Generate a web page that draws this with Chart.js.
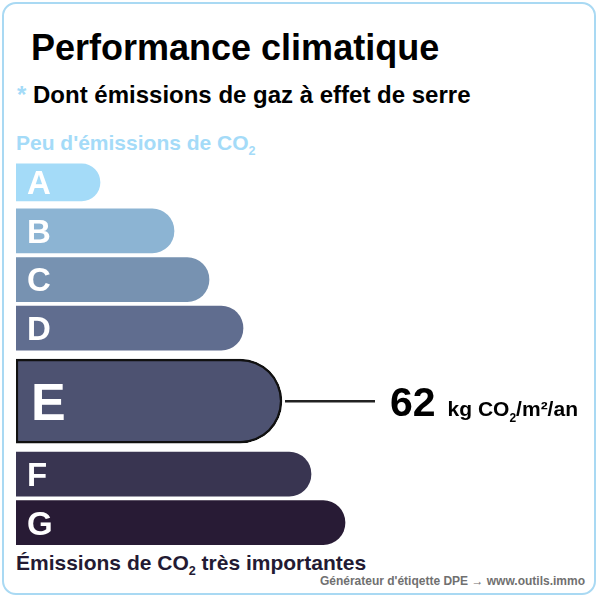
<!DOCTYPE html>
<html lang="fr">
<head>
<meta charset="utf-8">
<title>Performance climatique</title>
<script src="https://cdn.jsdelivr.net/npm/chart.js@4"></script>
<style>
  body { margin: 0; width: 600px; height: 600px; position: relative; overflow: hidden; background: #fff;
         font-family: "Liberation Sans", Arial, Helvetica, sans-serif; font-weight: bold; }
  .frame { position: absolute; left: 2px; top: 2px; width: 594px; height: 593px; box-sizing: border-box;
           border: 2px solid #a9d9f3; border-radius: 14px; }
  .txt { position: absolute; white-space: nowrap; line-height: 1; }
  #title { left: 31px; top: 30px; font-size: 36px; color: #000; }
  #sub { left: 17px; top: 83px; font-size: 24px; color: #000; }
  #sub .star { color: #a4dbf8; }
  #low { left: 16px; top: 132px; font-size: 21px; color: #a4dbf8; }
  #high { left: 16px; top: 552px; font-size: 21px; color: #231a33; }
  #credit { right: 15px; top: 575px; font-size: 12px; color: #707070; }
  sub { font-size: 0.6em; line-height: 0; vertical-align: -0.4em; }
  #chart { position: absolute; left: 0; top: 0; }
</style>
</head>
<body>
<div class="frame"></div>
<div class="txt" id="title">Performance climatique</div>
<div class="txt" id="sub"><span class="star">*</span> Dont émissions de gaz à effet de serre</div>
<div class="txt" id="low">Peu d'émissions de CO<sub>2</sub></div>
<div class="txt" id="high">Émissions de CO<sub>2</sub> très importantes</div>
<div class="txt" id="credit">Générateur d'étiqette DPE → www.outils.immo</div>
<canvas id="chart" width="600" height="600"></canvas>

<script>
// DPE classes and the length of each arrow bar
const classes = ['A', 'B', 'C', 'D', 'E', 'F', 'G'];
const barLengths = [84, 158, 193, 227, 266, 295, 329];
const rating = 'E';
const emission = 62;
const unit = ['kg CO', '2', '/m²/an'];

const classColors = ['#a4dbf8', '#8cb4d3', '#7792b1', '#606d8f', '#4d5271', '#393551', '#281b35'];

const ratedIdx = classes.indexOf(rating);
// the rated class gets one extra slot of room, half above and half below
const rank = i => i + (i > ratedIdx ? 1 : i === ratedIdx ? 0.5 : 0);

const labelPlugin = {
  id: 'dpeLabels',
  afterDatasetsDraw(chart) {
    const ctx = chart.ctx;
    ctx.save();
    chart.data.datasets.forEach((ds, i) => {
      const bar = chart.getDatasetMeta(i).data[0];
      const isRated = classes[i] === rating;
      const size = isRated ? 52 : 33;
      ctx.font = `bold ${size}px "Liberation Sans", Arial, sans-serif`;
      ctx.fillStyle = '#fff';
      ctx.textBaseline = 'alphabetic';
      ctx.fillText(classes[i], bar.base + (isRated ? 15 : 11), bar.y + size * 0.716 / 2);

      if (isRated) {
        const x0 = bar.x + 3, x1 = bar.x + 93;
        ctx.strokeStyle = '#222';
        ctx.lineWidth = 2.5;
        ctx.beginPath();
        ctx.moveTo(x0, bar.y);
        ctx.lineTo(x1, bar.y);
        ctx.stroke();

        const base = bar.y + 15;
        let x = x1 + 15;
        ctx.fillStyle = '#000';
        ctx.font = 'bold 41px "Liberation Sans", Arial, sans-serif';
        ctx.fillText(String(emission), x, base);
        x += ctx.measureText(String(emission)).width + 12;
        ctx.font = 'bold 21px "Liberation Sans", Arial, sans-serif';
        ctx.fillText(unit[0], x, base);
        x += ctx.measureText(unit[0]).width;
        ctx.font = 'bold 12px "Liberation Sans", Arial, sans-serif';
        ctx.fillText(unit[1], x, base + 6);
        x += ctx.measureText(unit[1]).width;
        ctx.font = 'bold 21px "Liberation Sans", Arial, sans-serif';
        ctx.fillText(unit[2], x, base);
      }
    });
    ctx.restore();
  }
};

new Chart(document.getElementById('chart'), {
  type: 'bar',
  data: {
    datasets: classes.map((c, i) => {
      const isRated = c === rating;
      return {
        label: c,
        data: [{ x: barLengths[i], y: rank(i) }],
        backgroundColor: classColors[i],
        borderColor: '#111',
        borderWidth: isRated ? 2.5 : 0,
        borderSkipped: isRated ? false : 'start',
        borderRadius: isRated ? { topRight: 60, bottomRight: 60 } : 30,
        barThickness: isRated ? 84 : (i === 0 ? 37 : 44)
      };
    })
  },
  options: {
    indexAxis: 'y',
    responsive: false,
    animation: false,
    events: [],
    layout: { padding: { left: 16, right: 184, top: 158, bottom: 53 } },
    scales: {
      x: { type: 'linear', min: 0, max: 400, display: false, stacked: false },
      y: { type: 'linear', min: -0.5, max: 7.5, reverse: true, offset: false, display: false, stacked: true }
    },
    plugins: { legend: { display: false }, tooltip: { enabled: false } }
  },
  plugins: [labelPlugin]
});
</script>
</body>
</html>
